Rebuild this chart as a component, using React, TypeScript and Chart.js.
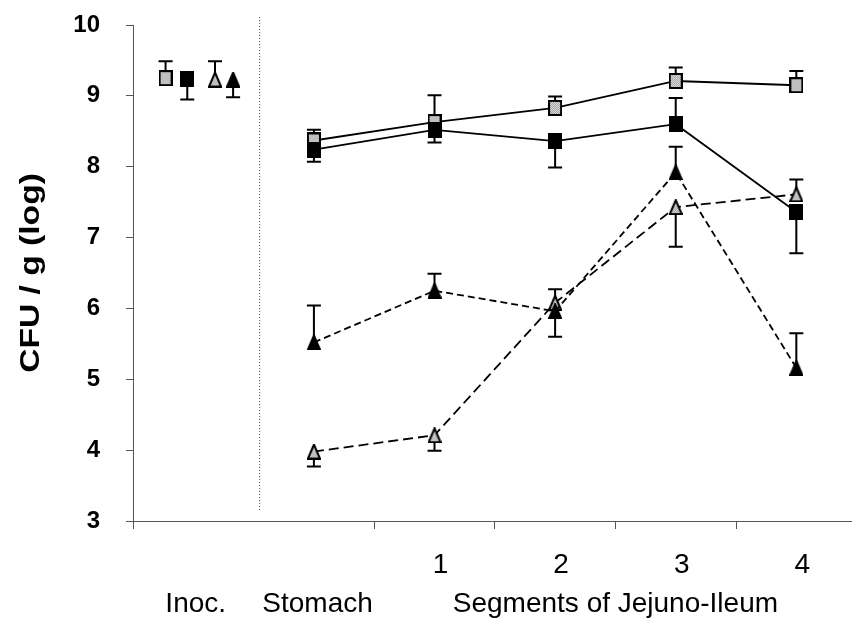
import { useEffect, useRef } from "react";
import { Chart, registerables, Plugin } from "chart.js";

Chart.register(...registerables);

// categories along the x axis (Inoc. is plotted apart, left of the separator)
const segmentLabels = ["1", "2", "3", "4"];
const groupLabels = ["Inoc.", "Stomach", "Segments of Jejuno-Ileum"];
const yTicks = [3, 4, 5, 6, 7, 8, 9, 10];

// log CFU/g: inoculum, then stomach + segments 1-4
const inoc = [9.25, 9.24, 9.23, 9.23];
const graySquare = [8.37, 8.63, 8.83, 9.21, 9.15];
const blackSquare = [8.24, 8.52, 8.36, 8.6, 7.36];
const grayTriangle = [3.98, 4.21, 6.08, 7.43, 7.61];
const blackTriangle = [5.52, 6.25, 5.96, 7.92, 5.16];

// one-sided error bars (signed: + drawn up, - drawn down)
const inocErr = [0.24, -0.29, 0.26, -0.25];
const graySquareErr = [0.15, 0.38, 0.16, 0.19, 0.2];
const blackSquareErr = [-0.17, -0.18, -0.37, 0.37, -0.58];
const grayTriangleErr = [-0.21, -0.22, 0.19, -0.56, 0.21];
const blackTriangleErr = [0.52, 0.24, -0.36, 0.36, 0.49];

const FONT = "'Liberation Sans', Arial, sans-serif";

function makeMarker(shape: "square" | "triangle", filled: boolean) {
  const w = 14;
  const h = 16;
  const c = document.createElement("canvas");
  c.width = w;
  c.height = h;
  const ctx = c.getContext("2d")!;
  ctx.beginPath();
  if (shape === "square") {
    ctx.rect(1, 1, w - 2, h - 2);
  } else {
    ctx.moveTo(w / 2, 1);
    ctx.lineTo(w - 1, h - 1);
    ctx.lineTo(1, h - 1);
    ctx.closePath();
  }
  if (filled) {
    ctx.fillStyle = "#000";
    ctx.fill();
  } else {
    // screened grey fill
    ctx.save();
    ctx.clip();
    for (let i = 0; i < w; i++) {
      for (let j = 0; j < h; j++) {
        ctx.fillStyle = (i + j) % 2 ? "#9a9a9a" : "#e6e6e6";
        ctx.fillRect(i, j, 1, 1);
      }
    }
    ctx.restore();
  }
  ctx.lineWidth = 2;
  ctx.strokeStyle = "#000";
  ctx.stroke();
  return c;
}

function series(inocX: number, inocY: number, vals: number[]) {
  return [
    { x: inocX, y: inocY },
    { x: 1, y: null },
    ...vals.map((v, j) => ({ x: j + 1.5, y: v })),
  ];
}

const errorBars: Plugin = {
  id: "errorBars",
  beforeDatasetsDraw(chart) {
    const { ctx } = chart;
    const y = chart.scales.y;
    ctx.save();
    ctx.strokeStyle = "#000";
    ctx.lineWidth = 2;
    chart.data.datasets.forEach((ds: any, i) => {
      const meta = chart.getDatasetMeta(i);
      (ds.data as any[]).forEach((p, k) => {
        const e = ds.errs[k];
        if (p.y == null || e == null) return;
        const pt = meta.data[k];
        const y1 = y.getPixelForValue(p.y + e);
        ctx.beginPath();
        ctx.moveTo(pt.x, pt.y);
        ctx.lineTo(pt.x, y1);
        ctx.moveTo(pt.x - 7, y1);
        ctx.lineTo(pt.x + 7, y1);
        ctx.stroke();
      });
    });
    ctx.restore();
  },
};

const decorations: Plugin = {
  id: "decorations",
  beforeDatasetsDraw(chart) {
    const { ctx, chartArea } = chart;
    const x = chart.scales.x;
    // dotted separator between inoculum and gut samples
    const sx = x.getPixelForValue(1.05);
    ctx.save();
    ctx.strokeStyle = "#444";
    ctx.lineWidth = 1;
    ctx.setLineDash([1, 2]);
    ctx.beginPath();
    ctx.moveTo(sx, chartArea.top - 8);
    ctx.lineTo(sx, chartArea.bottom - 10);
    ctx.stroke();
    ctx.restore();
  },
  afterDraw(chart) {
    const { ctx, chartArea } = chart;
    const x = chart.scales.x;
    ctx.save();
    ctx.fillStyle = "#000";
    ctx.textAlign = "center";
    ctx.textBaseline = "alphabetic";
    ctx.font = `28px ${FONT}`;
    segmentLabels.forEach((t, j) => {
      ctx.fillText(t, x.getPixelForValue(j + 2.55), 573);
    });
    const groupX = [0.52, 1.53, 4.0];
    groupLabels.forEach((t, j) => {
      ctx.fillText(t, x.getPixelForValue(groupX[j]), 612);
    });
    // y title, drawn a little stretched along its length like the scan
    ctx.font = `bold 28px ${FONT}`;
    ctx.translate(39, (chartArea.top + chartArea.bottom) / 2);
    ctx.rotate(-Math.PI / 2);
    ctx.scale(1.2, 1);
    ctx.fillText("CFU / g (log)", 0, 0);
    ctx.restore();
  },
};

const inocX = [0.27, 0.45, 0.68, 0.83];

export default function App() {
  const canvasRef = useRef<HTMLCanvasElement | null>(null);
  const chartRef = useRef<Chart | null>(null);

  useEffect(() => {
    const ctx = canvasRef.current?.getContext("2d");
    if (!ctx) return;
    chartRef.current?.destroy();

    const gSq = makeMarker("square", false);
    const bSq = makeMarker("square", true);
    const gTr = makeMarker("triangle", false);
    const bTr = makeMarker("triangle", true);

    const mk = (
      data: any[],
      errs: (number | null)[],
      marker: HTMLCanvasElement,
      dash: number[]
    ): any => ({
      data,
      errs,
      pointStyle: marker,
      borderColor: "#000",
      borderWidth: 1.8,
      borderDash: dash,
      tension: 0,
      spanGaps: false,
      pointRadius: 7,
    });

    chartRef.current = new Chart(ctx, {
      type: "line",
      data: {
        datasets: [
          mk(series(inocX[3], inoc[3], blackTriangle), [inocErr[3], null, ...blackTriangleErr], bTr, [7, 4]),
          mk(series(inocX[2], inoc[2], grayTriangle), [inocErr[2], null, ...grayTriangleErr], gTr, [10, 5]),
          mk(series(inocX[1], inoc[1], blackSquare), [inocErr[1], null, ...blackSquareErr], bSq, []),
          mk(series(inocX[0], inoc[0], graySquare), [inocErr[0], null, ...graySquareErr], gSq, []),
        ],
      },
      options: {
        animation: false,
        responsive: false,
        layout: { padding: 0 },
        plugins: { legend: { display: false }, tooltip: { enabled: false } },
        scales: {
          x: {
            type: "linear",
            min: 0,
            max: 5.955,
            afterFit: (s: any) => {
              s.height = 97;
            },
            afterBuildTicks: (s: any) => {
              s.ticks = [0, 1, 2, 3, 4, 5].map((v) => ({ value: v }));
            },
            ticks: { display: false },
            border: { display: true, color: "#555", width: 1 },
            grid: {
              drawOnChartArea: false,
              drawTicks: true,
              tickLength: 8,
              color: (c: any) => (c.tick && c.tick.value === 1 ? "rgba(0,0,0,0)" : "#555"),
            },
          },
          y: {
            min: 3,
            max: 10,
            afterFit: (s: any) => {
              s.width = 133;
              s.paddingTop = 25;
              s.paddingBottom = 0;
            },
            afterBuildTicks: (s: any) => {
              s.ticks = yTicks.map((v) => ({ value: v }));
            },
            ticks: {
              color: "#000",
              padding: 26,
              font: { family: FONT, size: 24, weight: "bold" },
            },
            border: { display: true, color: "#555", width: 1 },
            grid: { drawOnChartArea: false, drawTicks: true, tickLength: 7, color: "#555" },
          },
        },
      },
      plugins: [errorBars, decorations],
    });

    return () => {
      chartRef.current?.destroy();
    };
  }, []);

  return (
    <div style={{ position: "fixed", left: 0, top: 0, width: 860, height: 618, background: "#fff" }}>
      <canvas ref={canvasRef} width={860} height={618} style={{ width: 860, height: 618 }} />
    </div>
  );
}
